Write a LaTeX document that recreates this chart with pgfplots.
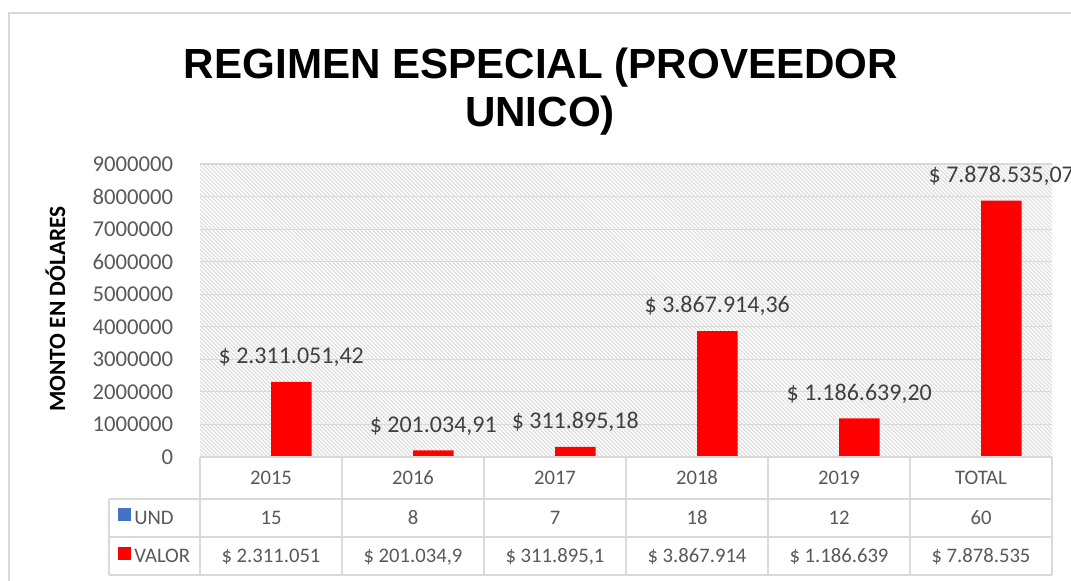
\documentclass[border=0pt]{standalone}
\usepackage{fontspec}
\setmainfont{Carlito}
\newfontfamily\titlefont{Liberation Sans}
\usepackage{pgfplots}
\pgfplotsset{compat=1.18}
\usetikzlibrary{patterns.meta}
\definecolor{gridgray}{HTML}{D9D9D9}
\definecolor{hatchgray}{HTML}{DDDDDD}
\definecolor{txtgray}{HTML}{595959}
\definecolor{lblgray}{HTML}{404040}
\definecolor{excelred}{HTML}{FF0000}
\definecolor{excelblue}{HTML}{4472C4}
\begin{document}
\begin{tikzpicture}[x=0.75pt,y=0.75pt]
\useasboundingbox (0,0) rectangle (1071,581);
\fill[white] (0,0) rectangle (1071,581);
\draw[gridgray, line width=1.2pt] (9,-20) -- (9,568) -- (1100,568);
\node[font=\titlefont\bfseries\fontsize{31.6}{36}\selectfont, anchor=base, inner sep=0pt] at (541,502) {REGIMEN ESPECIAL (PROVEEDOR};
\node[font=\titlefont\bfseries\fontsize{31.6}{36}\selectfont, anchor=base, inner sep=0pt] at (540,454) {UNICO)};
\node[rotate=90, anchor=base, inner sep=0pt, font=\bfseries\fontsize{17.5}{20}\selectfont] at (65,272) {MONTO EN DÓLARES};
\begin{axis}[
  at={(150pt,93pt)}, anchor=south west, scale only axis,
  width=639pt, height=219.75pt,
  xmin=-0.5, xmax=5.5, ymin=0, ymax=9000000,
  ybar, bar width=30.4pt,
  axis line style={draw=none},
  xtick=\empty,
  ytick={0,1000000,2000000,3000000,4000000,5000000,6000000,7000000,8000000,9000000},
  major tick length=0pt,
  ymajorgrids, grid style={gridgray, line width=0.8pt},
  scaled y ticks=false,
  /pgf/number format/fixed,
  /pgf/number format/1000 sep={},
  /pgf/number format/assume math mode=true,
  yticklabel style={font=\fontsize{17}{20}\selectfont, text=txtgray, inner sep=0pt, xshift=-20pt},
  axis background/.style={pattern={Lines[angle=-45,distance=2.12pt,line width=0.9pt]}, pattern color=hatchgray},
]
\addplot[fill=excelblue, draw=none, bar shift=-15.2pt] coordinates {(0,15) (1,8) (2,7) (3,18) (4,12) (5,60)};
\addplot[fill=excelred, draw=none, bar shift=15.2pt,
  nodes near coords, point meta=explicit symbolic,
  every node near coord/.append style={anchor=base, yshift=13.75pt, font=\fontsize{18}{21}\selectfont, text=lblgray}]
  coordinates {
  (0,2311051.42) [\$ 2.311.051,42]
  (1,201034.91) [\$ 201.034,91]
  (2,311895.18) [\$ 311.895,18]
  (3,3867914.36) [\$ 3.867.914,36]
  (4,1186639.20) [\$ 1.186.639,20]
  (5,7878535.07) [\$ 7.878.535,07]
  };
\end{axis}
% data table
\draw[gridgray, line width=1pt] (200,124) -- (1052,124);
\draw[gridgray, line width=1pt] (109,82) -- (1052,82);
\draw[gridgray, line width=1pt] (109,44) -- (1052,44);
\draw[gridgray, line width=1pt] (109,6) -- (1052,6);
\draw[gridgray, line width=1pt] (109,82) -- (109,6);
\foreach \xx in {200,342,484,626,768,910,1052} {\draw[gridgray, line width=1pt] (\xx,124) -- (\xx,6);}
\begin{scope}[every node/.style={font=\fontsize{15.5}{18}\selectfont, text=txtgray, anchor=base, inner sep=0pt}]
\foreach \lab [count=\i from 0] in {2015,2016,2017,2018,2019,TOTAL} {\node at (271+142*\i,96) {\lab};}
\foreach \lab [count=\i from 0] in {15,8,7,18,12,60} {\node at (271+142*\i,56) {\lab};}
\foreach \lab [count=\i from 0] in {\$ 2.311.051,\$ 201.034{,}9,\$ 311.895{,}1,\$ 3.867.914,\$ 1.186.639,\$ 7.878.535} {\node at (271+142*\i,18) {\lab};}
\node[anchor=base west] at (134,56) {UND};
\node[anchor=base west] at (134,18) {VALOR};
\end{scope}
\fill[excelblue] (118,60) rectangle (131,73);
\fill[excelred] (118,21) rectangle (131,34);
\end{tikzpicture}
\end{document}
